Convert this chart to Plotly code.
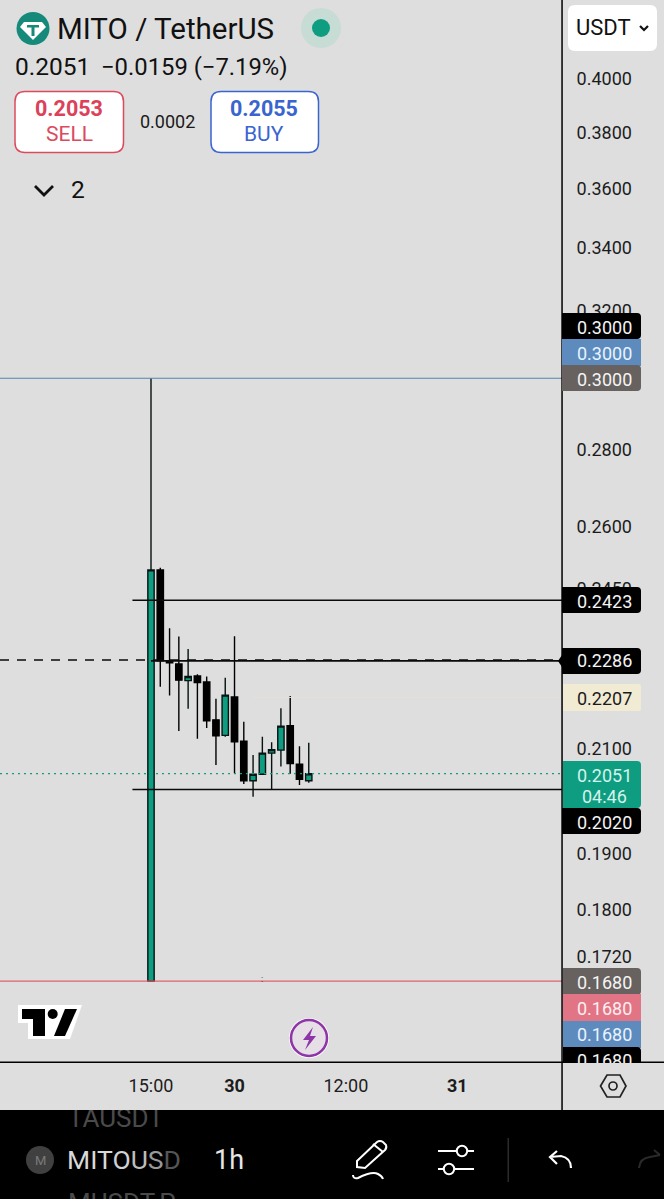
import math
import pandas as pd
import plotly.graph_objects as go

# ---------- data ----------
start = pd.Timestamp("2025-08-29 15:00")
opens = [0.1680, 0.2495, 0.2284, 0.2279, 0.2243, 0.2253, 0.2240, 0.2160, 0.2128, 0.2208, 0.2116, 0.2037, 0.2050, 0.2092, 0.2098, 0.2148, 0.2070, 0.2037]
highs = [0.3000, 0.2500, 0.2359, 0.2340, 0.2312, 0.2257, 0.2252, 0.2204, 0.2249, 0.2341, 0.2156, 0.2088, 0.2125, 0.2114, 0.2184, 0.2210, 0.2106, 0.2113]
lows = [0.1680, 0.2230, 0.2211, 0.2137, 0.2183, 0.2121, 0.2143, 0.2068, 0.2125, 0.2052, 0.2031, 0.2006, 0.2050, 0.2019, 0.2065, 0.2051, 0.2029, 0.2033]
closes = [0.2495, 0.2286, 0.2282, 0.2244, 0.2252, 0.2239, 0.2158, 0.2127, 0.2212, 0.2115, 0.2037, 0.2050, 0.2092, 0.2099, 0.2147, 0.2071, 0.2040, 0.2051]
y_ticks = [0.4, 0.38, 0.36, 0.34, 0.32, 0.28, 0.26, 0.245, 0.21, 0.19, 0.18, 0.172]
y_labels = ["0.4000", "0.3800", "0.3600", "0.3400", "0.3200", "0.2800", "0.2600", "0.2450", "0.2100", "0.1900", "0.1800", "0.1720"]
x_tick_times = ["2025-08-29 15:00", "2025-08-30 00:00", "2025-08-30 12:00", "2025-08-31 00:00"]
x_tick_labels = ["15:00", "<b>30</b>", "12:00", "<b>31</b>"]
level_top = 0.3000
level_bottom = 0.1680
level_last = 0.2051
level_pale = 0.2207
level_dashed = 0.2288
level_entry = 0.2286
level_upper = 0.2423
level_lower = 0.2020

# ---------- layout constants (pixels) ----------
W, H = 664, 1199
PW, PH = 562, 1062
BG = "#dedede"
GREEN = "#0f9d82"
FONT = "Roboto"
PX_PER_HOUR = 9.28
X0 = 151
PX_PER_LN = 1040


def X(x):
    return x / PW


def Y(y):
    return 1 - y / PH


def P(d):
    out, is_x = [], True
    for tok in d.split():
        if tok.isalpha():
            out.append(tok)
            is_x = True
        else:
            out.append(f"{X(float(tok)) if is_x else Y(float(tok)):.6f}")
            is_x = not is_x
    return " ".join(out)


shapes, annos = [], []


def path(d, fill=None, line=None, width=1):
    shapes.append(dict(type="path", xref="paper", yref="paper", path=P(d), layer="above",
                       fillcolor=fill or "rgba(0,0,0,0)", line=dict(color=line or "rgba(0,0,0,0)", width=width if line else 0)))


def rect(x0, y0, x1, y1, fill):
    path(f"M {x0} {y0} L {x1} {y0} L {x1} {y1} L {x0} {y1} Z", fill=fill)


def rrect(x0, y0, x1, y1, r, fill=None, line=None, width=1, left=True):
    rl = r if left else 0
    path(f"M {x0+rl} {y0} L {x1-r} {y0} Q {x1} {y0} {x1} {y0+r} L {x1} {y1-r} Q {x1} {y1} {x1-r} {y1} "
         f"L {x0+rl} {y1} Q {x0} {y1} {x0} {y1-rl} L {x0} {y0+rl} Q {x0} {y0} {x0+rl} {y0} Z", fill, line, width)


def circle(cx, cy, r, fill=None, line=None, width=1):
    shapes.append(dict(type="circle", xref="paper", yref="paper", layer="above",
                       x0=X(cx - r), x1=X(cx + r), y0=Y(cy + r), y1=Y(cy - r),
                       fillcolor=fill or "rgba(0,0,0,0)", line=dict(color=line or "rgba(0,0,0,0)", width=width if line else 0)))


def T(x, y, text, size, color="#131313", anchor="center", font=FONT):
    annos.append(dict(xref="paper", yref="paper", x=X(x), y=Y(y), text=text, showarrow=False,
                      xanchor=anchor, yanchor="middle", borderpad=0, borderwidth=0,
                      font=dict(family=font, size=size, color=color)))


def cover(x0, y0, x1, y1, color):
    annos.append(dict(xref="paper", yref="paper", x=X(x0), y=Y(y0), text=" ", showarrow=False,
                      xanchor="left", yanchor="top", width=x1 - x0, height=y1 - y0, bgcolor=color,
                      borderpad=0, borderwidth=0, font=dict(size=1)))


# ---------- scales ----------
hour = pd.Timedelta(hours=1)
times = [start + i * hour for i in range(len(opens))]
x_min = start - (X0 / PX_PER_HOUR) * hour
x_max = start + ((PW - X0) / PX_PER_HOUR) * hour
x_132 = start - 2 * hour
y_top = math.log10(0.4) + 79 / (PX_PER_LN * math.log(10))
y_bot = math.log10(0.4) - (PH - 79) / (PX_PER_LN * math.log(10))

fig = go.Figure()


def level(x0, x1, v, color, width=1, dash="solid"):
    fig.add_trace(go.Scatter(x=[x0, x1], y=[v, v], mode="lines", hoverinfo="skip", showlegend=False,
                             line=dict(color=color, width=width, dash=dash)))


level(x_min, x_max, level_top, "#5585b5", 1.1)
level(x_min, x_max, level_bottom, "#e0606f", 1.2)
level(x_min, x_max, level_last, "#159a82", 1.3, "2px,4px")
level(times[11], x_max, level_pale, "#e6e2d2", 1)
level(x_min, x_max, level_dashed, "#0a0a0a", 1.5, "9px,8px")
level(start, x_max, level_entry, "#0a0a0a", 1.6)
level(x_132, x_max, level_upper, "#0a0a0a", 1.5)
level(x_132, x_max, level_lower, "#0a0a0a", 1.5)

fig.add_trace(go.Candlestick(
    x=times, open=opens, high=highs, low=lows, close=closes, showlegend=False, hoverinfo="skip",
    whiskerwidth=0,
    increasing=dict(fillcolor=GREEN, line=dict(color="#061311", width=1.4)),
    decreasing=dict(fillcolor="#000000", line=dict(color="#000000", width=1.4)),
))

# ---------- chrome ----------
# axis lines
rect(0, 1061.5, 664, 1063, "#000000")
rect(561.3, 0, 562.8, 1110, "#000000")
# bottom bar
rect(0, 1110, 664, 1199, "#000000")

# price tags
rrect(562, 313, 641, 339, 4, "#000000", left=False)
rect(562, 339, 641, 366, "#5d8bbd")
rrect(562, 365, 641, 391, 4, "#67615f", left=False)
rrect(562, 587, 641, 613, 4, "#000000", left=False)
path("M 558 661 L 564 652 L 564 670 Z", fill="#000000")
rrect(562, 648, 641, 674, 4, "#000000", left=False)
rrect(563, 684, 641, 711, 2, "#f2ebd3", left=False)
rrect(563, 761, 641, 808, 4, GREEN, left=False)
rrect(562, 808, 641, 834, 4, "#000000", left=False)
rrect(563, 968, 641, 995, 4, "#67615f", left=False)
rect(563, 994, 641, 1021, "#e27585")
rect(563, 1021, 641, 1048, "#5d8bbd")
rrect(563, 1047, 641, 1066, 4, "#000000", left=False)

tag_w = "#f4f4f4"
T(604.5, 327, f"{level_top:.4f}", 18, tag_w)
T(604.5, 353, f"{level_top:.4f}", 18, "#e8f3ff")
T(604.5, 379, f"{level_top:.4f}", 18, tag_w)
T(604.5, 601, f"{level_upper:.4f}", 18, tag_w)
T(604.5, 661, f"{level_entry:.4f}", 18, tag_w)
T(604.5, 698, f"{level_pale:.4f}", 18, "#1b1b1b")
T(604, 775, f"{level_last:.4f}", 18, "#d5f3ea")
T(604, 796, "04:46", 18, "#d5f3ea")
T(604.5, 822, f"{level_lower:.4f}", 18, tag_w)
T(604.5, 982, f"{level_bottom:.4f}", 18, tag_w)
T(604.5, 1008, f"{level_bottom:.4f}", 18, "#fdeef0")
T(604.5, 1034, f"{level_bottom:.4f}", 18, "#e8f3ff")
T(604.5, 1060, f"{level_bottom:.4f}", 18, tag_w)
cover(563, 1063, 660, 1072, BG)

# header
circle(33, 28.5, 16.5, "#15897a")
path("M 24 22 L 42 22 L 46 27 L 33 40 L 20 27 Z", fill="#ffffff")
path("M 27 25 L 39 25 L 39 27.5 L 34.5 27.5 L 34.5 36 L 31.5 36 L 31.5 27.5 L 27 27.5 Z", fill="#15897a")
T(57, 29, "MITO / TetherUS", 29.5, "#111111", "left")
circle(321, 28, 20, "#c8dcd6")
circle(321, 28, 9, GREEN)
T(15, 67, "0.2051", 24.5, "#111111", "left")
T(100.5, 67, "\u22120.0159 (\u22127.19%)", 23.8, "#111111", "left")
rrect(15, 91.5, 123.5, 152.5, 10, "#ffffff", "#dc4a5e", 1.5)
T(69, 108.5, "<b>0.2053</b>", 21.5, "#dc4159")
T(69, 134, "SELL", 21, "#dc4a5e")
T(167, 122, "0.0002", 18, "#1a1a1a")
rrect(211, 91.5, 318.5, 152.5, 10, "#ffffff", "#3a64cf", 1.5)
T(264, 108.5, "<b>0.2055</b>", 21.5, "#3a64cf")
T(264, 134, "BUY", 21, "#3a64cf")
path("M 35 186 L 44 195 L 53 186", line="#111111", width=2.8)
T(78, 190, "2", 24.5, "#111111")

# currency button
rrect(568, 5, 657, 51, 7, "#ffffff")
T(603, 27.5, "USDT", 22, "#111111")
path("M 640 26 L 644 30 L 648 26", line="#111111", width=2.2)

# TradingView logo
path("M 18 1005 L 82 1005 L 70 1039 L 28 1039 L 28 1023 L 18 1023 Z", "#ffffff")
path("M 22 1009 L 45 1009 L 45 1036 L 33 1036 L 33 1019 L 22 1019 Z", "#000000")
path("M 65 1009 L 77 1009 L 65 1036 L 54 1036 Z", "#000000")
circle(52.7, 1014, 5, "#000000")

# flash icon
circle(309, 1038, 20, "#ffffff")
circle(309, 1038, 18, "#e6e0e6", "#8e35a8", 2.5)
path("M 313 1027 L 303 1040 L 309 1040 L 305 1050 L 316 1036 L 310 1036 Z", fill="#8e35a8")

# settings hexagon
path("M 600.5 1086 L 607 1075 L 620 1075 L 626 1086 L 620 1097 L 607 1097 Z", line="#222222", width=1.7)
circle(613, 1086, 4, None, "#222222", 1.7)

# small marker
T(262, 979, ":", 9, "#222222")

# bottom bar contents
T(68, 1118, "TAUSDT", 26, "#4a4a4a", "left")
cover(60, 1100, 172, 1110, BG)
T(68, 1203, "MUSDT.P", 26, "#4a4a4a", "left")
circle(40, 1160, 14, "#404040")
T(40, 1160, "M", 13, "#7a7a7a")
fade = ["#d9d9d9", "#d9d9d9", "#d9d9d9", "#d0d0d0", "#bdbdbd", "#999999", "#555555"]
T(67, 1159.5, "".join(f'<span style="color:{c}">{ch}</span>' for ch, c in zip("MITOUSD", fade)), 26.5, "#d9d9d9", "left")
T(228.5, 1159.5, "1h", 27, "#e6e6e6")
# pencil
path("M 357 1161 L 377 1142 Q 380 1140 383 1142 L 386 1145 Q 387 1148 385 1150 L 365 1168 L 357 1167 Z", line="#ffffff", width=2)
path("M 373 1144 L 383 1152", line="#ffffff", width=2)
path("M 353 1175 Q 353 1179 358 1178 Q 372 1171 378 1174 Q 382 1176 383 1179", line="#ffffff", width=2)
# sliders
rect(438, 1150, 474, 1152, "#ffffff")
rect(438, 1168, 474, 1170, "#ffffff")
circle(462, 1151, 5.2, "#000000", "#ffffff", 2)
circle(449, 1169, 5.2, "#000000", "#ffffff", 2)
# divider
rect(507.5, 1138, 509, 1182, "#2b2b2b")
# undo / redo
path("M 557 1151 L 550 1157 L 557 1164 M 550 1157 L 561 1156 Q 571 1158 571 1168", line="#ffffff", width=2.2)
path("M 639 1168 Q 640 1158 650 1157 L 660 1155 M 654 1150 L 660 1155", line="#2a2a2a", width=2)

# ---------- figure ----------
axis_font = dict(family=FONT, size=18, color="#1c1c1c")
fig.update_layout(
    width=W, height=H, paper_bgcolor=BG, plot_bgcolor=BG, showlegend=False, boxgap=0.2, boxgroupgap=0.15,
    margin=dict(l=0, r=W - PW, t=0, b=H - PH, pad=0),
    shapes=shapes, annotations=annos,
    xaxis=dict(type="date", range=[x_min, x_max], rangeslider=dict(visible=False), showgrid=False, zeroline=False,
               tickmode="array", tickvals=x_tick_times, ticktext=x_tick_labels, ticks="outside", ticklen=7,
               tickcolor="rgba(0,0,0,0)", tickfont=dict(family=FONT, size=18, color="#1c1c1c"), showline=False),
    yaxis=dict(type="log", side="right", range=[y_bot, y_top], autorange=False, showgrid=False, zeroline=False,
               tickmode="array", tickvals=y_ticks, ticktext=y_labels, ticks="outside", ticklen=10,
               tickcolor="rgba(0,0,0,0)", tickfont=axis_font, showline=False),
)
fig.write_html("out.html", config=dict(displayModeBar=False),
               post_script="document.body.style.margin='0';document.documentElement.style.overflow='hidden';")
